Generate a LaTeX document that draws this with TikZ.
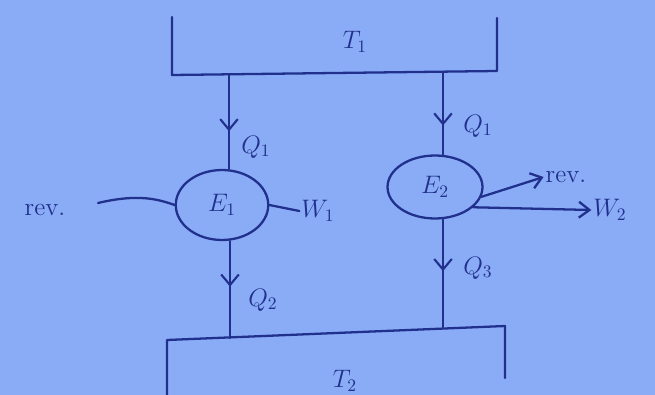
\documentclass[tikz,border=0pt]{standalone}
\usetikzlibrary{shapes.geometric,arrows.meta,decorations.markings}
\definecolor{paper}{RGB}{138,172,246}
\definecolor{ink}{RGB}{32,48,140}
\tikzset{
  ink/.style={draw=ink, line width=1.3pt, line cap=round, line join=round},
  lbl/.style={text=ink, font=\Large, inner sep=1pt},
  engine/.style={ink, ellipse, inner sep=0pt, text=ink, font=\Large},
  barb/.style={-{Straight Barb[length=6pt,width=9pt]}},
  midarrow/.style={postaction={decorate}, decoration={markings,
     mark=at position #1 with {\arrow{Straight Barb[length=6pt,width=10pt,line width=1.2pt]}}}}
}
\begin{document}
\begin{tikzpicture}[x=0.02cm, y=-0.02cm]
\fill[paper] (0,0) rectangle (655,395);
\useasboundingbox (0,0) rectangle (655,395);
% reservoirs
\coordinate (t1l) at (172,75);
\coordinate (t1r) at (497,71);
\coordinate (t2l) at (167,340);
\coordinate (t2r) at (505,326);
\draw[ink] (172,17) -- (t1l) -- (t1r) -- (497,18);
\draw[ink] (167,395) -- (t2l) -- (t2r) -- (505,378);
\node[lbl] (T1) at (355,42) {$T_1$};
\node[lbl] (T2) at (345,381) {$T_2$};
% engines
\node[engine, minimum width=1.85cm, minimum height=1.4cm] (E1) at (222,205) {$E_1$};
\node[engine, minimum width=1.9cm, minimum height=1.26cm] (E2) at (435,187) {$E_2$};
% connectors
\coordinate (a1) at (229,75);
\coordinate (a2) at (443,72);
\coordinate (b1) at (230,338);
\coordinate (b2) at (443,327);
\draw[ink, midarrow=0.6] (a1) -- (a1 |- E1.north);
\draw[ink, midarrow=0.65] (a2) -- (a2 |- E2.north);
\draw[ink, midarrow=0.47] (b1 |- E1.south) -- (b1);
\draw[ink, midarrow=0.48] (b2 |- E2.south) -- (b2);
\node[lbl] (Q1l) at (256,147) {$Q_1$};
\node[lbl] (Q1r) at (478,126) {$Q_1$};
\node[lbl] (Q2) at (263,300) {$Q_2$};
\node[lbl] (Q3) at (478,268) {$Q_3$};
% left side
\node[lbl] (revL) at (45,210) {rev.};
\coordinate (rs) at (98,203);
\draw[ink] (rs) .. controls (140,193) and (160,200) .. (E1.west);
\node[lbl] (W1) at (318,211) {$W_1$};
\draw[ink] (E1.east) -- (W1.west);
% right side
\node[lbl] (revR) at (566,177) {rev.};
\node[lbl] (W2) at (610,210) {$W_2$};
\draw[ink, barb] (E2.-12) -- (revR.west);
\draw[ink, barb] (E2.-28) -- (W2.west);
\end{tikzpicture}
\end{document}
